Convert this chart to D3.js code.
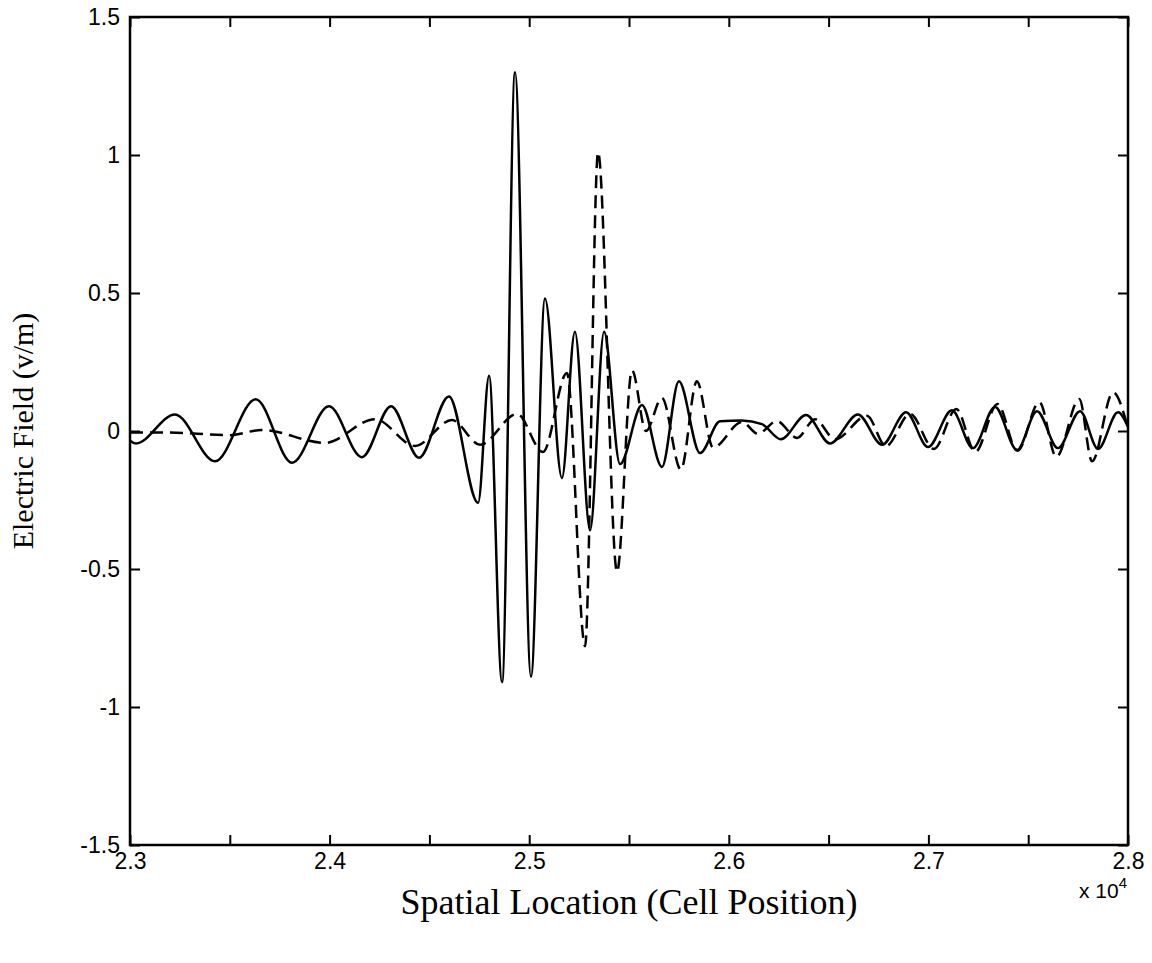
<!DOCTYPE html>
<html>
<head>
<meta charset="utf-8">
<script src="https://cdn.jsdelivr.net/npm/d3@7"></script>
<style>
  body { margin: 0; background: #fff; }
  svg { display: block; }
</style>
</head>
<body>
<svg id="chart" width="1152" height="963"></svg>
<script>
// cell positions (x) and field values (y)
const solidX = [23000, 23030, 23225, 23426, 23630, 23812, 23997, 24162, 24308, 24448,
                24598, 24744, 24799, 24864, 24929, 25009, 25079, 25164, 25229, 25305,
                25375, 25455, 25565, 25665, 25750, 25856, 25956, 26066, 26166, 26261,
                26387, 26507, 26647, 26768, 26888, 26998, 27118, 27223, 27334, 27444,
                27544, 27649, 27760, 27850, 27950, 28000];
const solidY = [-0.035, -0.045, 0.06, -0.11, 0.115, -0.115, 0.09, -0.095, 0.09, -0.097,
                0.125, -0.26, 0.2, -0.91, 1.3, -0.89, 0.48, -0.17, 0.36, -0.36,
                0.36, -0.12, 0.094, -0.13, 0.18, -0.08, 0.035, 0.038, 0.025, -0.03,
                0.058, -0.045, 0.06, -0.05, 0.068, -0.058, 0.075, -0.062, 0.087, -0.069,
                0.072, -0.062, 0.072, -0.065, 0.068, 0.015];

const dashX = [23000, 23175, 23501, 23661, 23977, 24227, 24428, 24613, 24754, 24939,
               25069, 25189, 25280, 25345, 25440, 25515, 25585, 25665, 25760, 25840,
               25921, 26066, 26146, 26241, 26342, 26432, 26532, 26692, 26787, 26908,
               27028, 27140, 27235, 27346, 27446, 27556, 27641, 27756, 27820, 27925, 28000];
const dashY = [-0.005, -0.005, -0.015, 0.004, -0.043, 0.043, -0.054, 0.04, -0.05, 0.062,
               -0.076, 0.21, -0.78, 1.01, -0.51, 0.22, 0.0, 0.12, -0.14, 0.18,
               -0.06, 0.033, -0.01, 0.036, -0.025, 0.043, -0.03, 0.055, -0.055, 0.062,
               -0.065, 0.08, -0.076, 0.098, -0.072, 0.105, -0.094, 0.116, -0.11, 0.14, 0.01];

const xTicks = d3.range(23000, 28001, 500);
const xLabelTicks = [23000, 24000, 25000, 26000, 27000, 28000];
const yTicks = [-1.5, -1, -0.5, 0, 0.5, 1, 1.5];

const svg = d3.select("#chart");
const m = { left: 130, right: 1128, top: 17, bottom: 845 };

const x = d3.scaleLinear().domain([23000, 28000]).range([m.left, m.right]);
const y = d3.scaleLinear().domain([-1.5, 1.5]).range([m.bottom, m.top]);

svg.append("rect").attr("width", 1152).attr("height", 963).attr("fill", "#fff");

// axes with inward ticks on all four sides
function styleAxis(g) {
    g.select(".domain").remove();
    g.selectAll(".tick line").attr("stroke", "#000").attr("stroke-width", 2);
    g.selectAll(".tick text")
        .attr("fill", "#000")
        .style("font-family", "'Liberation Sans', Arial, sans-serif")
        .style("font-size", "23px");
}

const fmtX = d => xLabelTicks.includes(d) ? d3.format(".1f")(d / 1e4) : "";

svg.append("g")
    .attr("transform", `translate(0,${m.bottom})`)
    .call(d3.axisBottom(x).tickValues(xTicks).tickFormat(fmtX).tickSize(-10).tickPadding(8))
    .call(styleAxis);

svg.append("g")
    .attr("transform", `translate(0,${m.top})`)
    .call(d3.axisTop(x).tickValues(xTicks).tickFormat("").tickSize(-10))
    .call(styleAxis);

svg.append("g")
    .attr("transform", `translate(${m.left},0)`)
    .call(d3.axisLeft(y).tickValues(yTicks).tickFormat(d => String(d)).tickSize(-10).tickPadding(10))
    .call(styleAxis);

svg.append("g")
    .attr("transform", `translate(${m.right},0)`)
    .call(d3.axisRight(y).tickValues(yTicks).tickFormat("").tickSize(-10))
    .call(styleAxis);

// box
svg.append("rect")
    .attr("x", m.left).attr("y", m.top)
    .attr("width", m.right - m.left).attr("height", m.bottom - m.top)
    .attr("fill", "none").attr("stroke", "#000").attr("stroke-width", 2.5);

// curves
const line = d3.line()
    .x(d => x(d[0]))
    .y(d => y(d[1]))
    .curve(d3.curveMonotoneX);

svg.append("path")
    .datum(dashX.map((v, i) => [v, dashY[i]]))
    .attr("d", line)
    .attr("fill", "none")
    .attr("stroke", "#000")
    .attr("stroke-width", 2.5)
    .attr("stroke-dasharray", "13,7");

svg.append("path")
    .datum(solidX.map((v, i) => [v, solidY[i]]))
    .attr("d", line)
    .attr("fill", "none")
    .attr("stroke", "#000")
    .attr("stroke-width", 2.5);

// exponent note
const expo = svg.append("text")
    .attr("x", 1079).attr("y", 898)
    .style("font-family", "'Liberation Sans', Arial, sans-serif")
    .style("font-size", "21px");
expo.append("tspan").text("x 10");
expo.append("tspan").attr("dy", -10).style("font-size", "15px").text("4");

// axis titles
svg.append("text")
    .attr("x", 629).attr("y", 914)
    .attr("text-anchor", "middle")
    .style("font-family", "'Liberation Serif', 'Times New Roman', serif")
    .style("font-size", "36px")
    .text("Spatial Location (Cell Position)");

svg.append("text")
    .attr("transform", `translate(33,${(m.top + m.bottom) / 2}) rotate(-90)`)
    .attr("text-anchor", "middle")
    .style("font-family", "'Liberation Serif', 'Times New Roman', serif")
    .style("font-size", "30px")
    .text("Electric Field (v/m)");
</script>
</body>
</html>
